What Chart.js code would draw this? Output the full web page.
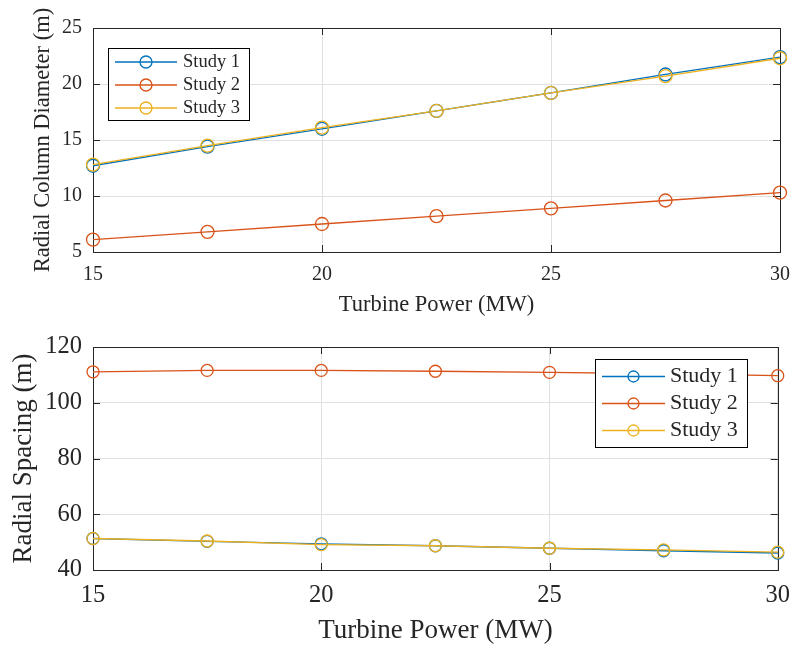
<!DOCTYPE html>
<html>
<head>
<meta charset="utf-8">
<script src="https://cdn.jsdelivr.net/npm/chart.js@4.4.0/dist/chart.umd.min.js"></script>
<style>
  html, body { margin: 0; padding: 0; background: #fff; }
  #wrap { position: relative; width: 801px; height: 648px; }
  canvas { position: absolute; left: 0; }
</style>
</head>
<body>
<div id="wrap">
  <canvas id="topChart" width="801" height="320" style="top:0"></canvas>
  <canvas id="bottomChart" width="801" height="328" style="top:320px"></canvas>
</div>
<script>
// data
const power = [15, 17.5, 20, 22.5, 25, 27.5, 30];
const studyNames = ['Study 1', 'Study 2', 'Study 3'];
const diameter1 = [12.7, 14.4, 16.0, 17.6, 19.2, 20.85, 22.4];
const diameter2 = [6.1, 6.8, 7.5, 8.2, 8.9, 9.6, 10.3];
const diameter3 = [12.8, 14.5, 16.1, 17.6, 19.2, 20.7, 22.3];
const spacing1 = [51.3, 50.3, 49.4, 48.7, 47.8, 46.9, 46.1];
const spacing2 = [111.1, 111.6, 111.6, 111.3, 110.9, 110.4, 109.7];
const spacing3 = [51.3, 50.4, 49.1, 48.7, 47.8, 47.2, 46.4];
const xTicks = [15, 20, 25, 30];
const diameterTicks = [5, 10, 15, 20, 25];
const spacingTicks = [40, 60, 80, 100, 120];
const colors = ['#0072BD', '#D95319', '#EDB120'];

const FONT = '"Liberation Serif", "Times New Roman", serif';
const INK = '#262626';

// box round the axes plus inward tick marks, like matlab
const framePlugin = {
  id: 'frame',
  beforeDatasetsDraw(chart, args, opts) {
    const { ctx, chartArea: a, scales: { x, y } } = chart;
    const len = opts.tickLen;
    ctx.save();
    ctx.strokeStyle = INK;
    ctx.lineWidth = 1;
    ctx.beginPath();
    x.ticks.forEach(t => {
      const px = Math.round(x.getPixelForValue(t.value)) + 0.5;
      ctx.moveTo(px, a.bottom); ctx.lineTo(px, a.bottom - len);
      ctx.moveTo(px, a.top); ctx.lineTo(px, a.top + len);
    });
    y.ticks.forEach(t => {
      const py = Math.round(y.getPixelForValue(t.value)) + 0.5;
      ctx.moveTo(a.left, py); ctx.lineTo(a.left + len, py);
      ctx.moveTo(a.right, py); ctx.lineTo(a.right - len, py);
    });
    ctx.stroke();
    ctx.strokeRect(Math.round(a.left) + 0.5, Math.round(a.top) + 0.5,
      Math.round(a.right - a.left), Math.round(a.bottom - a.top));
    ctx.restore();
  }
};

// legend drawn inside the plot area with a box
const boxLegendPlugin = {
  id: 'boxLegend',
  afterDraw(chart, args, o) {
    const ctx = chart.ctx;
    ctx.save();
    ctx.fillStyle = '#fff';
    ctx.fillRect(o.x, o.y, o.w, o.h);
    ctx.strokeStyle = '#000';
    ctx.lineWidth = 1;
    ctx.strokeRect(o.x + 0.5, o.y + 0.5, o.w, o.h);
    ctx.font = o.fontSize + 'px ' + FONT;
    ctx.textBaseline = 'middle';
    ctx.textAlign = 'left';
    chart.data.datasets.forEach((ds, i) => {
      const cy = o.y + o.rowTop + i * o.rowGap;
      ctx.strokeStyle = ds.borderColor;
      ctx.lineWidth = 1.3;
      ctx.beginPath();
      ctx.moveTo(o.x + o.lineFrom, cy);
      ctx.lineTo(o.x + o.lineTo, cy);
      ctx.stroke();
      ctx.beginPath();
      ctx.arc(o.x + (o.lineFrom + o.lineTo) / 2, cy, o.marker, 0, Math.PI * 2);
      ctx.stroke();
      ctx.fillStyle = INK;
      ctx.fillText(ds.label, o.x + o.textX, cy);
    });
    ctx.restore();
  }
};

function makeChart(id, series, yTicks, cfg) {
  return new Chart(document.getElementById(id), {
    type: 'line',
    data: {
      datasets: series.map((vals, i) => ({
        label: studyNames[i],
        data: power.map((p, k) => ({ x: p, y: vals[k] })),
        // later studies drawn on top, as in the original plot
        order: series.length - i,
        borderColor: colors[i],
        backgroundColor: 'transparent',
        borderWidth: 1.3,
        pointRadius: cfg.pointRadius,
        pointBorderWidth: 1.3,
        pointBorderColor: colors[i],
        pointBackgroundColor: 'transparent',
        tension: 0,
        clip: false
      }))
    },
    options: {
      responsive: false,
      animation: false,
      devicePixelRatio: 1,
      layout: { padding: { top: cfg.padTop, right: 14, left: 0, bottom: 0 } },
      plugins: {
        legend: { display: false },
        tooltip: { enabled: false },
        frame: { tickLen: 7 },
        boxLegend: cfg.legend
      },
      scales: {
        x: {
          type: 'linear',
          min: xTicks[0],
          max: xTicks[xTicks.length - 1],
          afterBuildTicks: s => { s.ticks = xTicks.map(v => ({ value: v })); },
          afterFit: s => { s.height = cfg.xHeight; },
          grid: { color: '#e0e0e0', drawTicks: false },
          border: { display: false },
          ticks: {
            color: INK, padding: cfg.xTickPad, maxRotation: 0,
            font: { family: FONT, size: cfg.tickSize }
          },
          title: {
            display: true, text: 'Turbine Power (MW)', color: INK,
            font: { family: FONT, size: cfg.titleSize },
            padding: { top: 0, bottom: cfg.xTitlePad }
          }
        },
        y: {
          min: yTicks[0],
          max: yTicks[yTicks.length - 1],
          afterBuildTicks: s => { s.ticks = yTicks.map(v => ({ value: v })); },
          afterFit: s => { s.width = 93; },
          grid: { color: '#e0e0e0', drawTicks: false },
          border: { display: false },
          ticks: {
            color: INK, padding: 11,
            font: { family: FONT, size: cfg.tickSize }
          },
          title: {
            display: true, text: cfg.yTitle, color: INK,
            font: { family: FONT, size: cfg.titleSize },
            padding: { top: cfg.yTitlePad, bottom: 0 }
          }
        }
      }
    },
    plugins: [framePlugin, boxLegendPlugin]
  });
}

makeChart('topChart', [diameter1, diameter2, diameter3], diameterTicks, {
  padTop: 28, xHeight: 68, tickSize: 20, titleSize: 22.5,
  xTickPad: 11, xTitlePad: 1.5, yTitlePad: 30, pointRadius: 6.5,
  yTitle: 'Radial Column Diameter (m)',
  legend: { x: 108, y: 48, w: 141, h: 72, rowTop: 14, rowGap: 23,
            lineFrom: 7, lineTo: 69, marker: 6, textX: 75, fontSize: 18.5 }
});

makeChart('bottomChart', [spacing1, spacing2, spacing3], spacingTicks, {
  padTop: 27, xHeight: 78, tickSize: 24.5, titleSize: 27,
  xTickPad: 11, xTitlePad: 1, yTitlePad: 8, pointRadius: 6,
  yTitle: 'Radial Spacing (m)',
  legend: { x: 595, y: 39, w: 152, h: 88, rowTop: 17.5, rowGap: 27,
            lineFrom: 7, lineTo: 70, marker: 5.5, textX: 75, fontSize: 22 }
});
</script>
</body>
</html>
